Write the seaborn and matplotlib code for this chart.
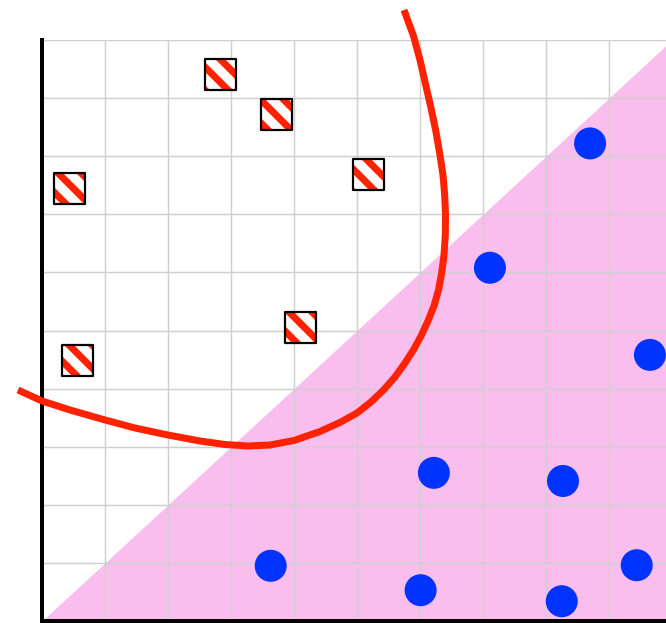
import matplotlib
matplotlib.use("Agg")
import matplotlib.pyplot as plt
import seaborn as sns
import pandas as pd
import numpy as np

# squares (hatched class)
sq_x = [0.44, 2.83, 3.73, 5.19, 4.10, 0.56]
sq_y = [7.45, 9.40, 8.71, 7.69, 5.05, 4.49]

# circles (blue class)
circ_x = [8.70, 7.11, 9.65, 6.22, 8.27, 3.63, 6.01, 8.25, 9.44]
circ_y = [8.22, 6.08, 4.58, 2.55, 2.41, 0.95, 0.53, 0.34, 0.96]

# red boundary curve
curve_x = [-0.381, 0.000, 0.444, 1.000, 1.476, 2.000, 2.508, 2.905, 3.270,
           3.619, 4.000, 4.413, 4.730, 5.000, 5.222, 5.429, 5.603, 5.762,
           5.905, 6.016, 6.127, 6.222, 6.294, 6.344, 6.381, 6.402, 6.405,
           6.392, 6.365, 6.317, 6.254, 6.175, 6.087, 6.000, 5.897, 5.746]
curve_y = [3.976, 3.787, 3.632, 3.460, 3.322, 3.201, 3.098, 3.038, 3.012,
           3.029, 3.107, 3.262, 3.417, 3.580, 3.769, 3.985, 4.200, 4.441,
           4.682, 4.905, 5.164, 5.422, 5.697, 5.990, 6.299, 6.644, 6.988,
           7.332, 7.676, 8.021, 8.417, 8.830, 9.243, 9.656, 10.069, 10.516]

# diagonal region y < x
diag_x = [0, 10]

DPI = 138
PT = 72 / DPI  # points per output pixel

sns.set_style("whitegrid")
plt.rcParams["hatch.linewidth"] = 7 * PT

fig = plt.figure(figsize=(666 / DPI, 623 / DPI), dpi=DPI)
ax = fig.add_axes([42 / 666, 2 / 623, 630 / 666, 581 / 623])

ax.fill_between(diag_x, [0, 0], diag_x, color="#f9bdee", linewidth=0, zorder=0.2)

sq = pd.DataFrame({"x": sq_x, "y": sq_y})
circ = pd.DataFrame({"x": circ_x, "y": circ_y})
curve = pd.DataFrame({"x": curve_x, "y": curve_y})

sns.scatterplot(data=circ, x="x", y="y", ax=ax, marker="o", s=(32 * PT) ** 2,
                color="#0033ff", edgecolor="none", linewidth=0, zorder=3,
                clip_on=False)
# hatched fill, then black outline on top
sns.scatterplot(data=sq, x="x", y="y", ax=ax, marker="s", s=(31 * PT) ** 2,
                color="white", edgecolor="#ff2200", linewidth=0,
                hatch="\\\\", zorder=3, clip_on=False)
sns.scatterplot(data=sq, x="x", y="y", ax=ax, marker="s", s=(31 * PT) ** 2,
                color="black", facecolor="none", edgecolor="black",
                linewidth=2.2 * PT, zorder=3.1, clip_on=False)
sns.lineplot(data=curve, x="x", y="y", ax=ax, sort=False, estimator=None,
             color="#ff2200", linewidth=7 * PT, zorder=4, clip_on=False,
             solid_capstyle="butt", solid_joinstyle="round")

ax.set_xlim(0, 10)
ax.set_ylim(0, 10)
ax.set_xticks(np.arange(0, 11))
ax.set_yticks(np.arange(0, 11))
ax.set_xticklabels([])
ax.set_yticklabels([])
ax.tick_params(length=0)
ax.set_xlabel("")
ax.set_ylabel("")
ax.grid(True, color="#d0d0d0", linewidth=1.5 * PT)
ax.set_axisbelow(True)

for side in ["top", "right"]:
    ax.spines[side].set_visible(False)
for side in ["left", "bottom"]:
    ax.spines[side].set_color("black")
    ax.spines[side].set_linewidth(4 * PT)
    ax.spines[side].set_zorder(3.5)

fig.savefig("out.png", dpi=DPI)
